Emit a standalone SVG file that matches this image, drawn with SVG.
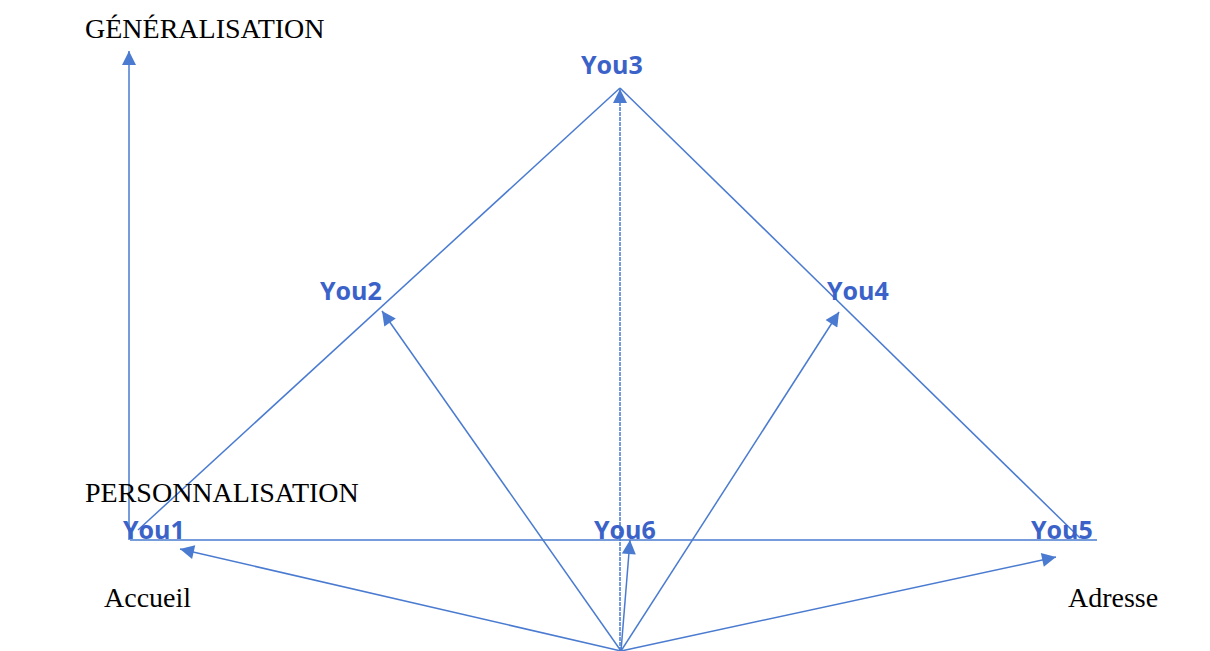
<svg xmlns="http://www.w3.org/2000/svg" width="1210" height="651" viewBox="0 0 1210 651">
<style>
.ln{stroke:#4a7bd0;stroke-width:1.5;fill:none}
.lb{font-family:"Open Sans","Liberation Sans",sans-serif;font-weight:bold;font-size:25px;fill:#3a62c8}
.tx{font-family:"Liberation Serif",serif;font-size:28px;fill:#000}
</style>
<defs>
<marker id="ah" viewBox="0 0 10 10" refX="10" refY="5" markerWidth="16" markerHeight="14" markerUnits="userSpaceOnUse" orient="auto">
<path d="M0,0 L10,5 L0,10 z" fill="#4a7bd0"/>
</marker>
</defs>
<rect width="1210" height="651" fill="#fff"/>
<g id="connectors">
<line class="ln" x1="129" y1="540" x2="129" y2="51" marker-end="url(#ah)"/>
<line class="ln" x1="138" y1="530" x2="620" y2="88"/>
<line class="ln" x1="620" y1="88" x2="1080" y2="538"/>
<line class="ln" x1="130" y1="540" x2="1097" y2="540"/>
<line class="ln" x1="620" y1="651" x2="620" y2="89" marker-end="url(#ah)" stroke-dasharray="4 1"/>
<line class="ln" x1="621" y1="651" x2="180" y2="549" marker-end="url(#ah)"/>
<line class="ln" x1="621" y1="651" x2="382" y2="311" marker-end="url(#ah)"/>
<line class="ln" x1="621" y1="651" x2="630" y2="540" marker-end="url(#ah)"/>
<line class="ln" x1="621" y1="651" x2="839" y2="312" marker-end="url(#ah)"/>
<line class="ln" x1="621" y1="651" x2="1056" y2="557" marker-end="url(#ah)"/>
</g>
<g id="axis-labels">
<text class="tx" x="85" y="38">GÉNÉRALISATION</text>
<text class="tx" x="85" y="502">PERSONNALISATION</text>
<text class="tx" x="104" y="607">Accueil</text>
<text class="tx" x="1068" y="607">Adresse</text>
</g>
<g id="you1"><text class="lb" x="123" y="539">You1</text></g>
<g id="you2"><text class="lb" x="320" y="300">You2</text></g>
<g id="you3"><text class="lb" x="581" y="74">You3</text></g>
<g id="you4"><text class="lb" x="827" y="300">You4</text></g>
<g id="you5"><text class="lb" x="1031" y="539">You5</text></g>
<g id="you6"><text class="lb" x="594" y="539">You6</text></g>
</svg>
